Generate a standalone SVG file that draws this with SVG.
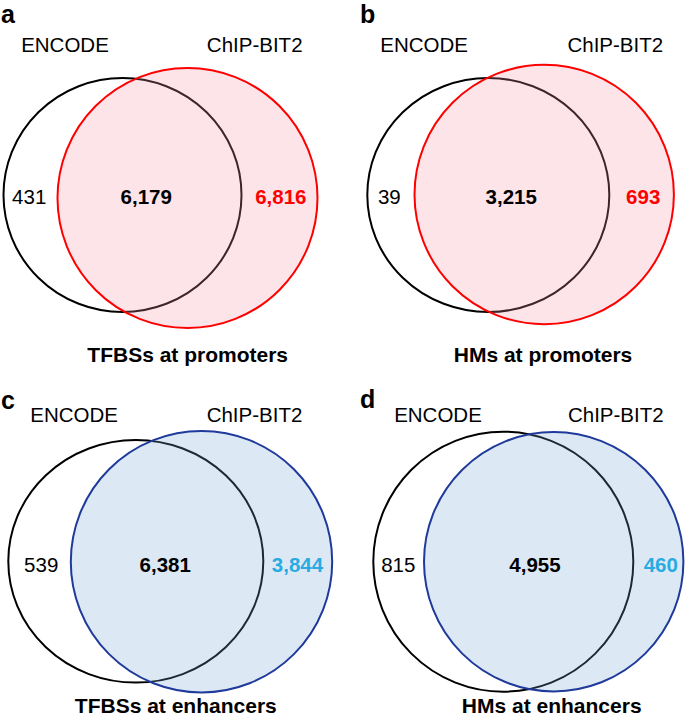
<svg xmlns="http://www.w3.org/2000/svg" width="685" height="719" viewBox="0 0 685 719">
<style>
.bg{fill:#ffffff}
.enc{fill:none;stroke:#000000;stroke-width:2}
.red{fill:#f393a3;fill-opacity:0.25;stroke:#ff0000;stroke-width:2}
.blue{fill:#73a7d7;fill-opacity:0.25;stroke:#1f3a9a;stroke-width:2}
text{font-family:"Liberation Sans",Arial,sans-serif;text-anchor:middle}
.lab{font-size:20.5px;fill:#000000}
.num{font-size:20.5px;fill:#000000}
.b{font-weight:bold}
.title{font-size:21px;font-weight:bold;fill:#000000}
.letter{font-size:25px;font-weight:bold;fill:#000000;text-anchor:start}
.rtxt{fill:#ff0000}
.ctxt{fill:#29abe2}
</style>
<rect class="bg" x="0" y="0" width="685" height="719"/>
<g id="panel-a">
  <text class="letter" x="1" y="23">a</text>
  <g id="a-encode"><ellipse class="enc" cx="122.5" cy="195" rx="119" ry="117"/><text class="lab" x="65" y="52.3">ENCODE</text></g>
  <g id="a-chipbit2"><circle class="red" cx="187.5" cy="198" r="130"/><text class="lab" x="254.7" y="52.3">ChIP-BIT2</text></g>
  <text class="num" x="29.2" y="204">431</text>
  <text class="num b" x="146.2" y="204">6,179</text>
  <text class="num b rtxt" x="280.8" y="204">6,816</text>
  <text class="title" x="187.7" y="361.7">TFBSs at promoters</text>
</g>
<g id="panel-b">
  <text class="letter" x="360" y="23">b</text>
  <g id="b-encode"><ellipse class="enc" cx="488.3" cy="195" rx="121" ry="117"/><text class="lab" x="424.2" y="52.3">ENCODE</text></g>
  <g id="b-chipbit2"><circle class="red" cx="544.2" cy="194.5" r="129.7"/><text class="lab" x="615.3" y="52.3">ChIP-BIT2</text></g>
  <text class="num" x="389.3" y="204">39</text>
  <text class="num b" x="511.2" y="204">3,215</text>
  <text class="num b rtxt" x="643.2" y="204">693</text>
  <text class="title" x="543" y="361.7">HMs at promoters</text>
</g>
<g id="panel-c">
  <text class="letter" x="1" y="409">c</text>
  <g id="c-encode"><ellipse class="enc" cx="135.8" cy="561.3" rx="127.5" ry="121.3"/><text class="lab" x="74.2" y="422.3">ENCODE</text></g>
  <g id="c-chipbit2"><circle class="blue" cx="201.5" cy="561.7" r="130.7"/><text class="lab" x="254.5" y="422.3">ChIP-BIT2</text></g>
  <text class="num" x="41.2" y="572.3">539</text>
  <text class="num b" x="165.2" y="572.3">6,381</text>
  <text class="num b ctxt" x="297.5" y="572.3">3,844</text>
  <text class="title" x="175.8" y="713">TFBSs at enhancers</text>
</g>
<g id="panel-d">
  <text class="letter" x="360" y="408">d</text>
  <g id="d-encode"><circle class="enc" cx="503.3" cy="561.7" r="130"/><text class="lab" x="438" y="422.3">ENCODE</text></g>
  <g id="d-chipbit2"><circle class="blue" cx="553.7" cy="561.7" r="129.7"/><text class="lab" x="615.8" y="422.3">ChIP-BIT2</text></g>
  <text class="num" x="398.3" y="572">815</text>
  <text class="num b" x="535" y="572">4,955</text>
  <text class="num b ctxt" x="660.8" y="572">460</text>
  <text class="title" x="551.7" y="713">HMs at enhancers</text>
</g>
<g id="connectors"></g>
</svg>
